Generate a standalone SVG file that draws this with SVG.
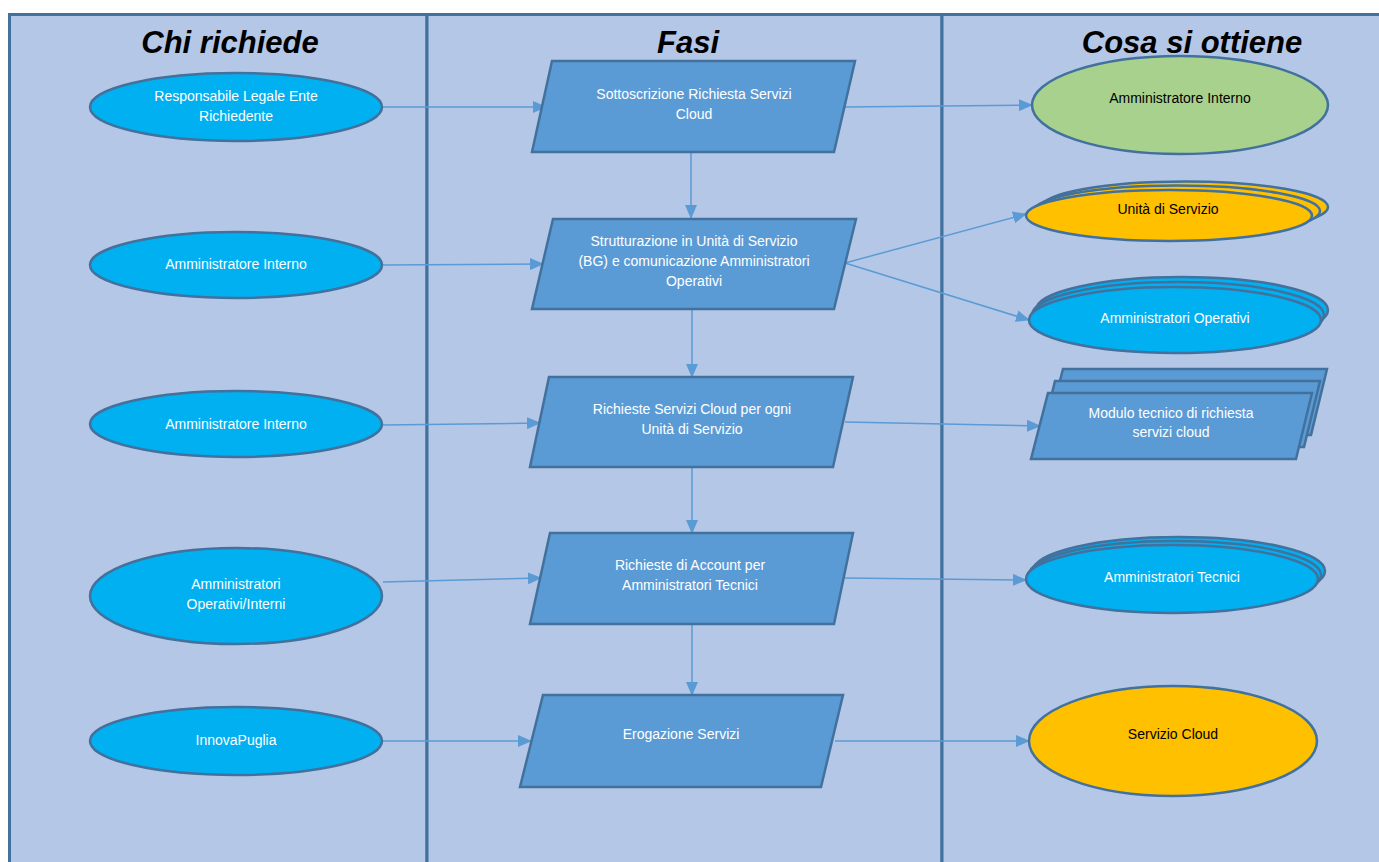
<svg xmlns="http://www.w3.org/2000/svg" width="1379" height="862" viewBox="0 0 1379 862">
<defs>
<style>
.lane{fill:#B4C7E7;stroke:#41719C;stroke-width:3}
.title{font-family:"Liberation Sans",Arial,sans-serif;font-weight:bold;font-style:italic;font-size:31px;fill:#000;text-anchor:middle}
.ell{fill:#00B0F0;stroke:#41719C;stroke-width:2.5}
.yel{fill:#FFC000;stroke:#41719C;stroke-width:2.5}
.grn{fill:#A9D18E;stroke:#41719C;stroke-width:2.5}
.par{fill:#5B9BD5;stroke:#41719C;stroke-width:2.5}
.t{font-family:"Liberation Sans",Arial,sans-serif;font-size:14px;text-anchor:middle;fill:#fff}
.tb{font-family:"Liberation Sans",Arial,sans-serif;font-size:14px;text-anchor:middle;fill:#000}
.con{stroke:#5B9BD5;stroke-width:1.5;fill:none;marker-end:url(#ah)}
</style>
<marker id="ah" markerWidth="14" markerHeight="12" refX="13" refY="6" orient="auto" markerUnits="userSpaceOnUse">
<path d="M0,0 L14,6 L0,12 Z" fill="#5B9BD5"/>
</marker>
</defs>
<rect width="1379" height="862" fill="#fff"/>
<g id="lanes">
<rect class="lane" x="9.5" y="14.5" width="417.5" height="860"/>
<rect class="lane" x="427" y="14.5" width="515" height="860"/>
<rect class="lane" x="942" y="14.5" width="450" height="860"/>
<text class="title" x="230" y="53">Chi richiede</text>
<text class="title" x="688" y="53">Fasi</text>
<text class="title" x="1192" y="53">Cosa si ottiene</text>
</g>
<g id="connectors">
<line class="con" x1="383" y1="107" x2="546" y2="107"/>
<line class="con" x1="383" y1="265" x2="543" y2="264"/>
<line class="con" x1="383" y1="425" x2="540" y2="423"/>
<line class="con" x1="383" y1="582" x2="541" y2="578"/>
<line class="con" x1="383" y1="741" x2="531" y2="741"/>
<line class="con" x1="845" y1="107" x2="1032" y2="105"/>
<line class="con" x1="845" y1="263" x2="1026" y2="214"/>
<line class="con" x1="845" y1="263" x2="1029" y2="320"/>
<line class="con" x1="845" y1="422" x2="1040" y2="426"/>
<line class="con" x1="845" y1="578" x2="1026" y2="580"/>
<line class="con" x1="835" y1="741" x2="1029" y2="741"/>
<line class="con" x1="691" y1="153" x2="691" y2="218"/>
<line class="con" x1="692" y1="309" x2="692" y2="377"/>
<line class="con" x1="692" y1="468" x2="692" y2="533"/>
<line class="con" x1="692" y1="625" x2="692" y2="695"/>
</g>
<g id="req1"><ellipse class="ell" cx="236" cy="107" rx="146" ry="34"/><text class="t" x="236" y="101">Responsabile Legale Ente</text><text class="t" x="236" y="121">Richiedente</text></g>
<g id="req2"><ellipse class="ell" cx="236" cy="265" rx="146" ry="33"/><text class="t" x="236" y="269">Amministratore Interno</text></g>
<g id="req3"><ellipse class="ell" cx="236" cy="424" rx="146" ry="33"/><text class="t" x="236" y="429">Amministratore Interno</text></g>
<g id="req4"><ellipse class="ell" cx="236" cy="596" rx="146" ry="48"/><text class="t" x="236" y="589">Amministratori</text><text class="t" x="236" y="609">Operativi/Interni</text></g>
<g id="req5"><ellipse class="ell" cx="236" cy="741" rx="146" ry="34"/><text class="t" x="236" y="745">InnovaPuglia</text></g>
<g id="fase1"><polygon class="par" points="552,61 855,61 834,152 532,152"/><text class="t" x="694" y="99">Sottoscrizione Richiesta Servizi</text><text class="t" x="694" y="119">Cloud</text></g>
<g id="fase2"><polygon class="par" points="553,219 856,219 834,309 532,309"/><text class="t" x="694" y="246">Strutturazione in Unità di Servizio</text><text class="t" x="694" y="266">(BG) e comunicazione Amministratori</text><text class="t" x="694" y="286">Operativi</text></g>
<g id="fase3"><polygon class="par" points="549,377 853,377 833,467 530,467"/><text class="t" x="692" y="414">Richieste Servizi Cloud per ogni</text><text class="t" x="692" y="434">Unità di Servizio</text></g>
<g id="fase4"><polygon class="par" points="550,533 853,533 834,624 530,624"/><text class="t" x="690" y="570">Richieste di Account per</text><text class="t" x="690" y="590">Amministratori Tecnici</text></g>
<g id="fase5"><polygon class="par" points="543,695 843,695 821,787 520,787"/><text class="t" x="681" y="739">Erogazione Servizi</text></g>
<g id="out1"><ellipse class="grn" cx="1180" cy="105" rx="148" ry="49"/><text class="tb" x="1180" y="103">Amministratore Interno</text></g>
<g id="out2"><ellipse class="yel" cx="1185" cy="207" rx="143" ry="25.5"/><ellipse class="yel" cx="1177" cy="211" rx="143" ry="25.5"/><ellipse class="yel" cx="1169" cy="215.5" rx="143" ry="25.5"/><text class="tb" x="1168" y="214">Unità di Servizio</text></g>
<g id="out3"><ellipse class="ell" cx="1182" cy="310" rx="146" ry="33"/><ellipse class="ell" cx="1178" cy="315" rx="146" ry="33"/><ellipse class="ell" cx="1175" cy="320" rx="146" ry="33"/><text class="t" x="1175" y="323">Amministratori Operativi</text></g>
<g id="out4"><polygon class="par" points="1063,369 1327,369 1311,435 1046,435"/><polygon class="par" points="1055,381 1320,381 1304,447 1039,447"/><polygon class="par" points="1048,393 1312,393 1296,459 1031,459"/><text class="t" x="1171" y="418">Modulo tecnico di richiesta</text><text class="t" x="1171" y="437">servizi cloud</text></g>
<g id="out5"><ellipse class="ell" cx="1179" cy="571" rx="146" ry="34"/><ellipse class="ell" cx="1175" cy="575" rx="146" ry="34"/><ellipse class="ell" cx="1172" cy="579" rx="146" ry="34"/><text class="t" x="1172" y="582">Amministratori Tecnici</text></g>
<g id="out6"><ellipse class="yel" cx="1173" cy="741" rx="144" ry="55"/><text class="tb" x="1173" y="739">Servizio Cloud</text></g>
</svg>
